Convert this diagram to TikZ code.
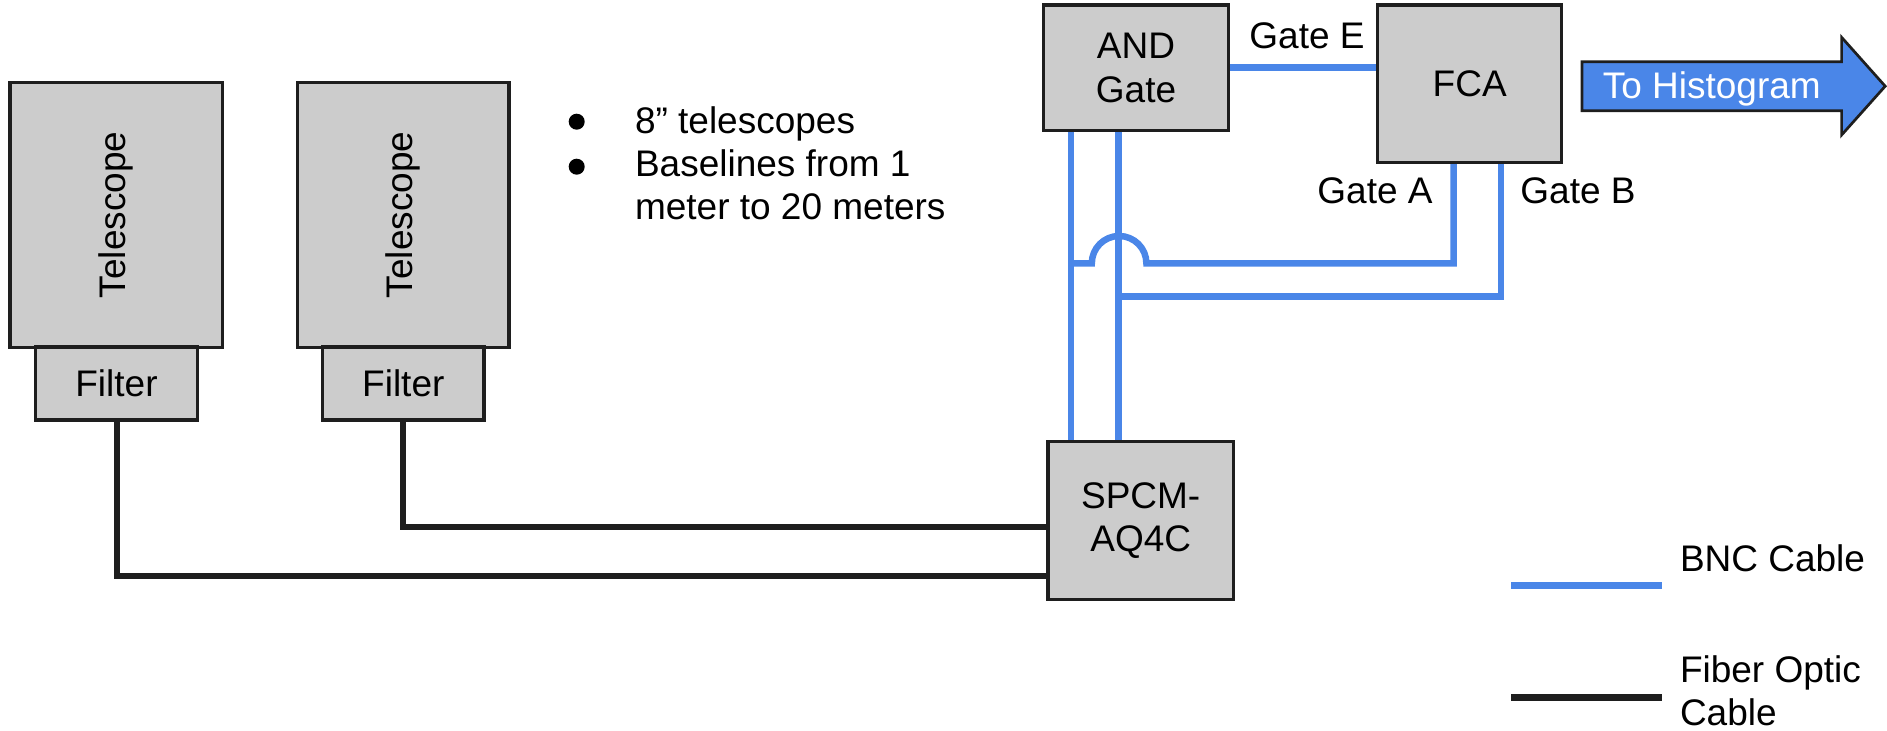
\documentclass[tikz,border=0pt]{standalone}
\usepackage{fontspec}
\setmainfont{Liberation Sans}
\usetikzlibrary{backgrounds}
\definecolor{boxgray}{HTML}{CCCCCC}
\definecolor{bncblue}{HTML}{4A86E8}
\definecolor{edge}{HTML}{1E1E1E}
\begin{document}
\begin{tikzpicture}[x=0.5pt,y=-0.5pt,
  every node/.style={font=\fontsize{18.5}{21.7}\selectfont, inner sep=0pt, outer sep=0pt},
  box/.style={draw=edge, fill=boxgray, line width=1.65pt, align=center},
  bnc/.style={draw=bncblue, line width=3.25pt},
  fiber/.style={draw=edge, line width=3pt},
  lbl/.style={anchor=base, text=black},
  bullet/.style={circle, fill=black, minimum size=8pt}
]
\useasboundingbox (0,0) rectangle (1887,731);

% telescopes and filters
\node[box, minimum width=106.35pt, minimum height=132.3pt, label={[rotate=90]center:Telescope}] (tel1) at (116.4,215) {};
\node[box, minimum width=80.8pt, minimum height=36.5pt] (filt1) at (116.5,383.5) {Filter};
\node[box, minimum width=105.85pt, minimum height=132.3pt, label={[rotate=90]center:Telescope}] (tel2) at (403.2,215) {};
\node[box, minimum width=80.65pt, minimum height=36.5pt] (filt2) at (403.3,383.5) {Filter};

% electronics
\node[box, minimum width=92.35pt, minimum height=62.85pt] (and) at (1136,67.8) {AND\\Gate};
\node[box, minimum width=92.1pt, minimum height=78.85pt] (fca) at (1469.7,83.8) {FCA};
\node[box, minimum width=92.65pt, minimum height=78.8pt] (spcm) at (1140.7,520.5) {SPCM-\\AQ4C};

\coordinate (jA) at (1071,263.3);
\coordinate (hopR) at (1146.4,263.3);
\coordinate (jB) at (1118.5,296.7);

\begin{scope}[on background layer]
  \draw[fiber] (filt1.south) |- (spcm.west |- 0,576);
  \draw[fiber] (filt2.south) |- (spcm.west |- 0,527.3);
  \draw[bnc] (and.south -| 1071,0) -- (spcm.north -| 1071,0);
  \draw[bnc] (and.south -| 1118.5,0) -- (spcm.north -| 1118.5,0);
  \draw[bnc] (and.east |- 0,67.7) -- (fca.west |- 0,67.7);
  \draw[bnc] (fca.south -| 1453.6,0) |- (hopR) arc[start angle=0,end angle=180,radius=13.65pt] -- (jA);
  \draw[bnc] (fca.south -| 1501,0) |- (jB);
\end{scope}

% gate labels
\node[lbl] (gE) at (1307,48.3) {Gate E};
\node[lbl] (gA) at (1375,204) {Gate A};
\node[lbl] (gB) at (1578,204) {Gate B};

% output arrow
\draw[draw=edge, fill=bncblue, line width=1.35pt, line join=miter]
  (1582,61.7) -- (1841.6,61.7) -- (1841.6,37.3) -- (1885.2,86.2) -- (1841.6,135) -- (1841.6,110.7) -- (1582,110.7) -- cycle;
\node[anchor=base, text=white] (hist) at (1711.8,98.5) {To Histogram};

% bullet list
\node[bullet] (b1) at (576.7,121.7) {};
\node[bullet] (b2) at (576.7,166.7) {};
\node[anchor=base west] (t1) at (635,134) {8” telescopes};
\node[anchor=base west, align=left] (t2) at (635,220) {Baselines from 1\\meter to 20 meters};

% legend
\coordinate (lb1) at (1511,585.7);
\coordinate (lb2) at (1662.4,585.7);
\coordinate (lf1) at (1511,697.3);
\coordinate (lf2) at (1662.4,697.3);
\draw[bnc, line width=3.65pt] (lb1) -- (lb2);
\draw[fiber, line width=3.65pt] (lf1) -- (lf2);
\node[anchor=base west] (bncl) at (1680,571.7) {BNC Cable};
\node[anchor=base west, align=left] (fol) at (1680,726) {Fiber Optic\\Cable};
\end{tikzpicture}
\end{document}
